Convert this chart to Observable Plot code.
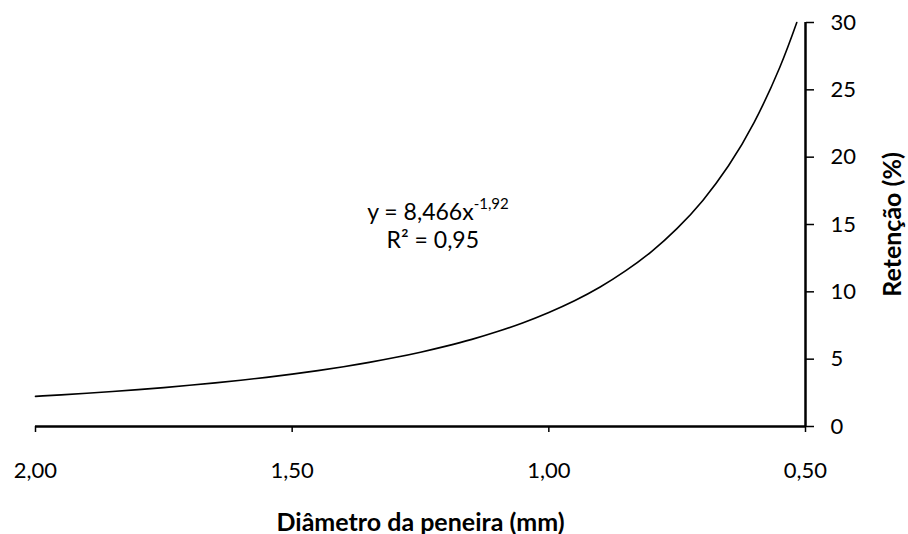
<!DOCTYPE html>
<html>
<head>
<meta charset="utf-8">
<script src="https://cdn.jsdelivr.net/npm/d3@7"></script>
<script src="https://cdn.jsdelivr.net/npm/@observablehq/plot@0.6"></script>
<style>
  html, body { margin: 0; padding: 0; background: #fff; }
</style>
</head>
<body>
<div id="chart"></div>
<script>
// Values (trend curve of retention vs sieve diameter)
const diameter = [2.00, 1.95, 1.90, 1.85, 1.80, 1.75, 1.70, 1.65, 1.60, 1.55, 1.50, 1.45, 1.40, 1.35, 1.30, 1.25, 1.20, 1.15, 1.10, 1.05, 1.00, 0.95, 0.90, 0.85, 0.80, 0.75, 0.70, 0.65, 0.60, 0.55, 0.517];
const retention = [2.24, 2.35, 2.47, 2.60, 2.74, 2.89, 3.06, 3.24, 3.43, 3.65, 3.89, 4.15, 4.44, 4.76, 5.12, 5.52, 5.97, 6.47, 7.05, 7.71, 8.47, 9.34, 10.36, 11.57, 12.99, 14.71, 16.79, 19.36, 22.58, 26.68, 30.0];
const xTicks = [2.00, 1.50, 1.00, 0.50];
const yTicks = [0, 5, 10, 15, 20, 25, 30];
const xTitle = "Diâmetro da peneira (mm)";
const yTitle = "Retenção (%)";
const eqMain = "y = 8,466x";
const eqExp = "-1,92";
const eqR2 = "R² = 0,95";

const data = diameter.map((d, i) => ({d, r: retention[i]}));
const fmt = v => v.toFixed(2).replace(".", ",");

const plot = Plot.plot({
  width: 908,
  height: 534,
  marginLeft: 35,
  marginRight: 103,
  marginTop: 22,
  marginBottom: 108,
  style: {fontFamily: "Lato", fontSize: "22px", color: "#000", background: "#fff"},
  x: {domain: [2, 0.5], label: null},
  y: {domain: [0, 30], label: null},
  marks: [
    Plot.axisX({ticks: xTicks, tickFormat: fmt, tickSize: 6, tickPadding: 30, strokeWidth: 1.5, label: null}),
    Plot.axisY({anchor: "right", ticks: yTicks, tickSize: 8, tickPadding: 17, strokeWidth: 1.5, label: null}),
    Plot.ruleY([0], {stroke: "#000", strokeWidth: 2.5}),
    Plot.ruleX([0.5], {stroke: "#000", strokeWidth: 2.5}),
    Plot.line(data, {x: "d", y: "r", curve: "natural", stroke: "#000", strokeWidth: 1.6}),
    Plot.text([xTitle], {text: d => d, frameAnchor: "bottom", dy: 96, dx: 0, lineAnchor: "middle", textAnchor: "middle", fontWeight: "bold", fontSize: 25}),
    Plot.text([yTitle], {text: d => d, frameAnchor: "right", dx: 87, rotate: -90, lineAnchor: "middle", textAnchor: "middle", fontWeight: "bold", fontSize: 25})
  ]
});

// Trendline equation annotation with superscript exponent
const sx = plot.scale("x"), sy = plot.scale("y");
const svg = d3.select(plot.tagName.toLowerCase() === "svg" ? plot : plot.querySelector("svg"));
const g = svg.append("g").attr("font-family", "Lato").attr("font-size", 23).attr("fill", "#000").attr("text-anchor", "middle");
const t1 = g.append("text").attr("x", sx.apply(1.215)).attr("y", sy.apply(15.9)).attr("dy", "0.35em");
t1.append("tspan").text(eqMain);
t1.append("tspan").attr("font-size", 15).attr("dy", "-0.75em").text(eqExp);
g.append("text").attr("x", sx.apply(1.225)).attr("y", sy.apply(13.85)).attr("dy", "0.35em").text(eqR2);

document.getElementById("chart").appendChild(plot);
</script>
</body>
</html>
